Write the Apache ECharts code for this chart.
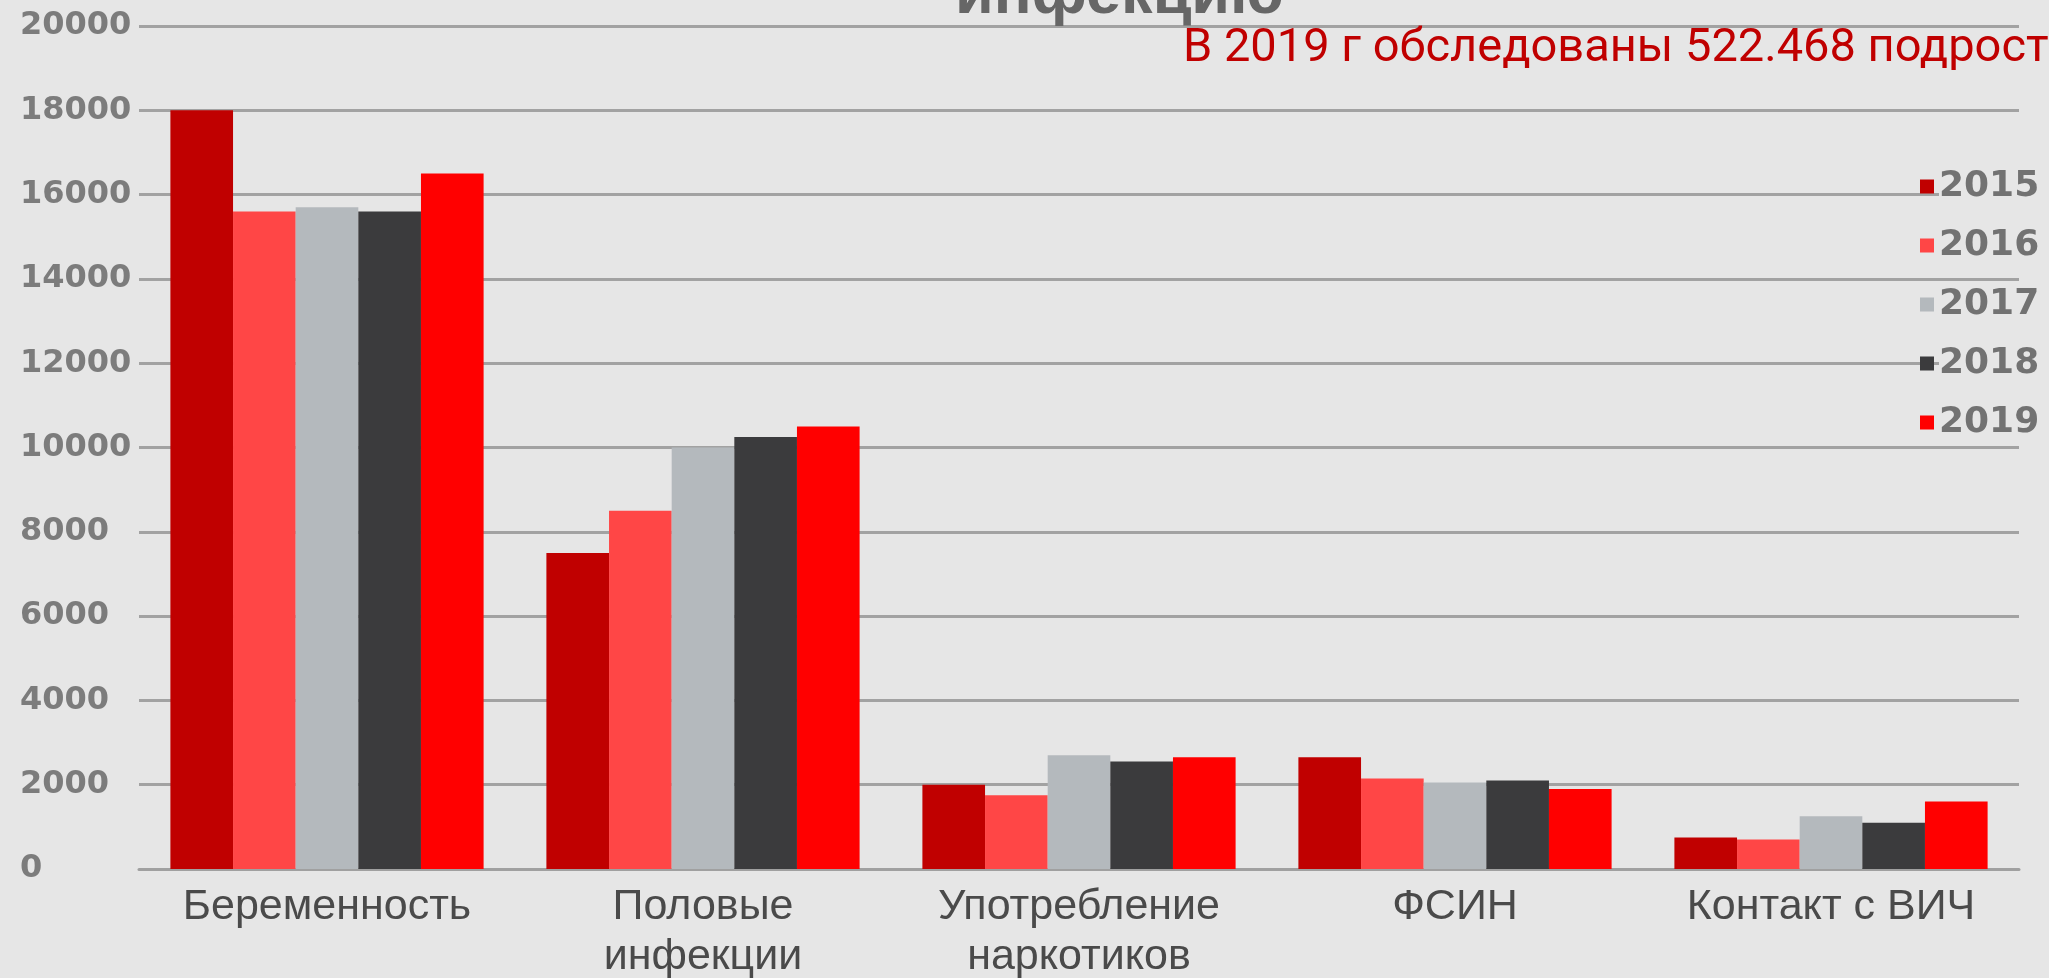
<!DOCTYPE html>
<html><head><meta charset="utf-8">
<script src="https://cdn.jsdelivr.net/npm/echarts@6/dist/echarts.min.js"></script>
<style>html,body{margin:0;padding:0;background:#e6e6e6;}#c{width:2049px;height:978px;}</style>
</head><body><div id="c"></div>
<script>
const categories = ['Беременность', 'Половые\nинфекции', 'Употребление\nнаркотиков', 'ФСИН', 'Контакт с ВИЧ'];
const years = ['2015', '2016', '2017', '2018', '2019'];
const values2015 = [18000, 7500, 2000, 2650, 750];
const values2016 = [15600, 8500, 1750, 2150, 700];
const values2017 = [15700, 10000, 2700, 2050, 1250];
const values2018 = [15600, 10250, 2550, 2100, 1100];
const values2019 = [16500, 10500, 2650, 1900, 1600];
const colors = ['#c00000', '#ff4646', '#b4b9bd', '#3b3b3d', '#ff0000'];
const titleText = 'инфекцию';
const subText = 'В 2019 г обследованы 522.468 подростков';

const seriesData = [values2015, values2016, values2017, values2018, values2019];
const chart = echarts.init(document.getElementById('c'));
chart.setOption({
  backgroundColor: '#e6e6e6',
  animation: false,
  title: [
    {text: titleText, left: 950, top: -41, padding: 5,
     textStyle: {fontFamily: 'Liberation Sans', fontWeight: 'bold', fontSize: 63, color: '#666666'}},
    {text: subText, left: 1178, top: 21, padding: 5,
     textStyle: {fontFamily: 'Roboto', fontWeight: 'normal', fontSize: 47, color: '#c00000'}}
  ],
  legend: {
    orient: 'vertical', left: 1915, top: 163, itemWidth: 14, itemHeight: 14, itemGap: 22,
    icon: 'rect', data: years,
    textStyle: {fontFamily: 'DejaVu Sans', fontWeight: 'bold', fontSize: 36, lineHeight: 37, color: '#727272',
                backgroundColor: '#e6e6e6', padding: [0, 0, 0, 0]}
  },
  grid: {left: 139, right: 30, top: 26, bottom: 109, containLabel: false, outerBoundsMode: 'none'},
  xAxis: {
    type: 'category', data: categories,
    axisLine: {lineStyle: {color: '#a0a0a0', width: 3}},
    axisTick: {show: false},
    axisLabel: {fontFamily: 'Liberation Sans', fontSize: 43, lineHeight: 50, color: '#4a4a4a', margin: 13, interval: 0}
  },
  yAxis: {
    type: 'value', min: 0, max: 20000, interval: 2000,
    axisLine: {show: false}, axisTick: {show: false},
    splitLine: {lineStyle: {color: '#a2a2a2', width: 3}},
    axisLabel: {fontFamily: 'DejaVu Sans', fontWeight: 'bold', fontSize: 32, color: '#7c7c7c', align: 'left', margin: 119,
                formatter: v => String(v)}
  },
  series: years.map((y, i) => ({
    name: y, type: 'bar', data: seriesData[i], barGap: '0%', barCategoryGap: '16.7%',
    itemStyle: {color: colors[i]}
  }))
});
</script></body></html>
